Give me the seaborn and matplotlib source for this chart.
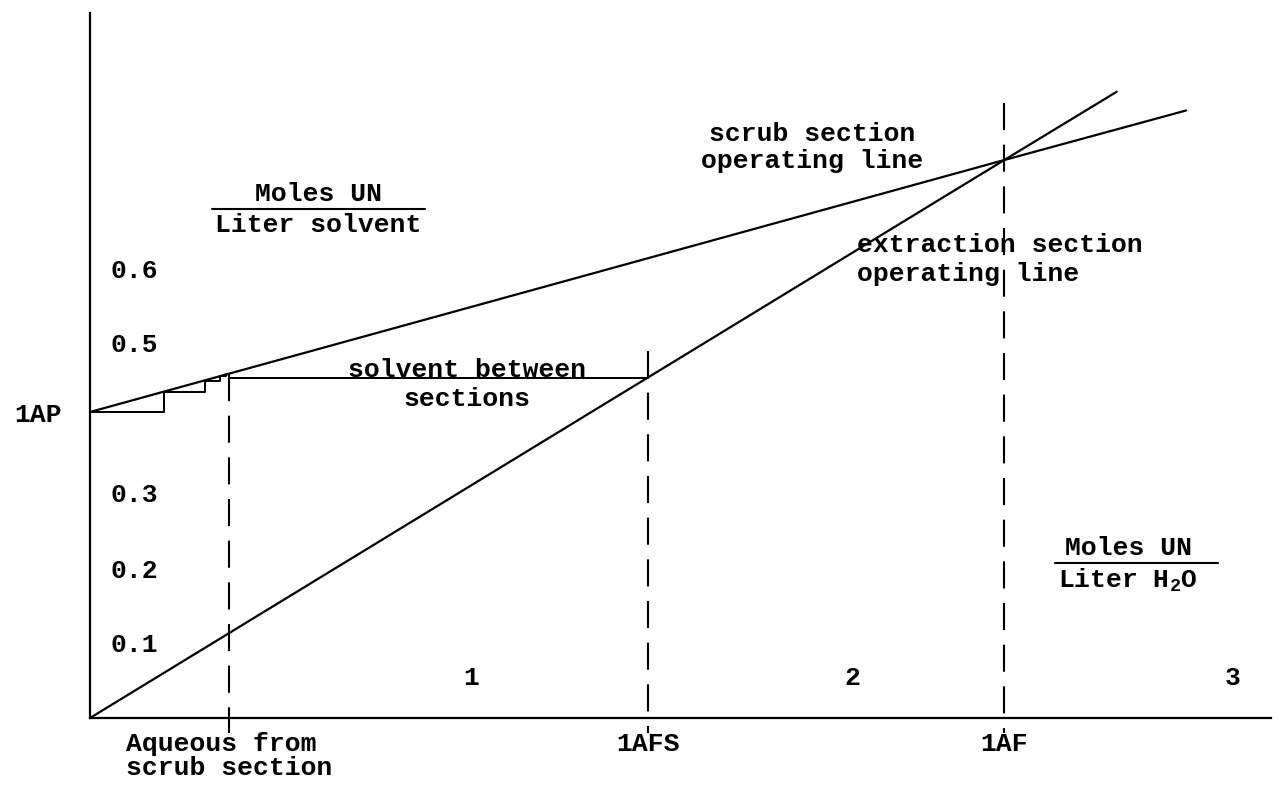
import matplotlib
matplotlib.use("Agg")
import matplotlib.pyplot as plt
import pandas as pd
import seaborn as sns

# Aqueous concentration ticks (Moles UN / Liter H2O) and solvent ticks (Moles UN / Liter solvent)
x_ticks = [1, 2, 3]
x_tick_labels = ["1", "2", "3"]
y_ticks = [0.1, 0.2, 0.3, 0.5, 0.6]
y_tick_labels = ["0.1", "0.2", "0.3", "0.5", "0.6"]

# Named stream compositions
stream_x = [0.365, 1.465, 2.40]
stream_x_labels = ["Aqueous from\nscrub section", "1AFS", "1AF"]
ap_y = 0.408            # 1AP
ap_label = "1AP"
solvent_between_y = 0.453

# Operating lines
extraction_x = [0.0, 2.40, 2.695]
extraction_y = [0.0, 0.744, 0.835]
scrub_x = [0.0, 2.40, 2.877]
scrub_y = [0.408, 0.744, 0.810]

# Stage construction in the scrub section
step_x = [0.0, 0.194, 0.194, 0.302, 0.302, 0.341, 0.341, 0.357, 0.357]
step_y = [0.408, 0.408, 0.435, 0.435, 0.450, 0.450, 0.456, 0.456, 0.459]

# Upper ends of the dashed stream markers
stream_top_y = [0.459, 0.49, 0.82]

sns.set_theme(style="white")
plt.rcParams["font.family"] = ["Liberation Mono", "DejaVu Sans"]
plt.rcParams["font.weight"] = "bold"
plt.rcParams["mathtext.fontset"] = "custom"
plt.rcParams["mathtext.rm"] = "Liberation Mono:bold"
plt.rcParams["mathtext.it"] = "Liberation Mono:bold"
plt.rcParams["mathtext.bf"] = "Liberation Mono:bold"

FS = 19
LW = 1.6
LS = 1.25

fig = plt.figure(figsize=(12.83, 7.85), dpi=100)
ax = fig.add_axes([90 / 1283, 67 / 785, 1181 / 1283, 705 / 785])
ax.set_xlim(0, 3.1)
ax.set_ylim(0, 0.94)

lines = pd.concat([
    pd.DataFrame({"x": extraction_x, "y": extraction_y, "line": "extraction"}),
    pd.DataFrame({"x": scrub_x, "y": scrub_y, "line": "scrub"}),
])
sns.lineplot(data=lines, x="x", y="y", units="line", estimator=None, sort=False,
             color="black", linewidth=LW, ax=ax, legend=False)
sns.lineplot(x=step_x, y=step_y, sort=False, estimator=None, color="black",
             linewidth=LW * 0.9, ax=ax)

# Solvent between sections
ax.plot([stream_x[0], stream_x[1]], [solvent_between_y, solvent_between_y],
        color="black", linewidth=LW * 0.9)

# Dashed stream markers
for sx, top in zip(stream_x, stream_top_y):
    ax.plot([sx, sx], [top, -0.02], color="black", linewidth=1.5,
            linestyle=(0, (13, 7)), clip_on=False)

# Axes frame
for side in ["top", "right"]:
    ax.spines[side].set_visible(False)
for side in ["left", "bottom"]:
    ax.spines[side].set_color("black")
    ax.spines[side].set_linewidth(1.6)
ax.set_xlabel("")
ax.set_ylabel("")

# Major ticks drawn inside with labels inside the frame
ax.set_yticks(y_ticks, labels=y_tick_labels)
ax.set_xticks(x_ticks, labels=x_tick_labels)
ax.tick_params(axis="y", which="major", direction="in", length=12, width=1.3,
               color="black", pad=-15, labelsize=FS, labelcolor="black")
ax.tick_params(axis="x", which="major", direction="in", length=10, width=1.3,
               color="black", pad=-20, labelsize=FS, labelcolor="black")
for t in ax.get_yticklabels():
    t.set_horizontalalignment("left")
for t in ax.get_xticklabels():
    t.set_verticalalignment("bottom")

# Stream labels as minor ticks
ax.set_yticks([ap_y], labels=[ap_label], minor=True)
ax.set_xticks(stream_x, labels=stream_x_labels, minor=True)
ax.tick_params(axis="y", which="minor", direction="inout", length=18, width=1.5,
               color="black", pad=11, labelsize=FS, labelcolor="black")
ax.tick_params(axis="x", which="minor", direction="inout", length=18, width=1.5,
               color="black", pad=1, labelsize=FS, labelcolor="black")
for t in ax.get_xticklabels(minor=True):
    t.set_multialignment("left")
    t.set_linespacing(1.0)

# Annotations
ax.text(1.895, 0.761, "scrub section\noperating line", fontsize=FS, ha="center",
        va="center", linespacing=1.15, color="black")
ax.text(2.013, 0.611, "extraction section\noperating line", fontsize=FS, ha="left",
        va="center", linespacing=LS, color="black")
ax.text(0.99, 0.445, "solvent between\nsections", fontsize=FS, ha="center",
        va="center", linespacing=LS, color="black")

# Axis quantity labels
ax.text(0.60, 0.683, "Moles UN", fontsize=FS, ha="center", va="bottom", color="black")
ax.plot([0.32, 0.88], [0.679, 0.679], color="black", linewidth=1.5)
ax.text(0.60, 0.673, "Liter solvent", fontsize=FS, ha="center", va="top", color="black")

ax.text(2.725, 0.211, "Moles UN", fontsize=FS, ha="center", va="bottom", color="black")
ax.plot([2.533, 2.96], [0.2065, 0.2065], color="black", linewidth=1.5)
ax.text(2.725, 0.201, "Liter H$_{2}$O", fontsize=FS, ha="center", va="top", color="black")

fig.savefig("out.png", dpi=100, facecolor="white")
